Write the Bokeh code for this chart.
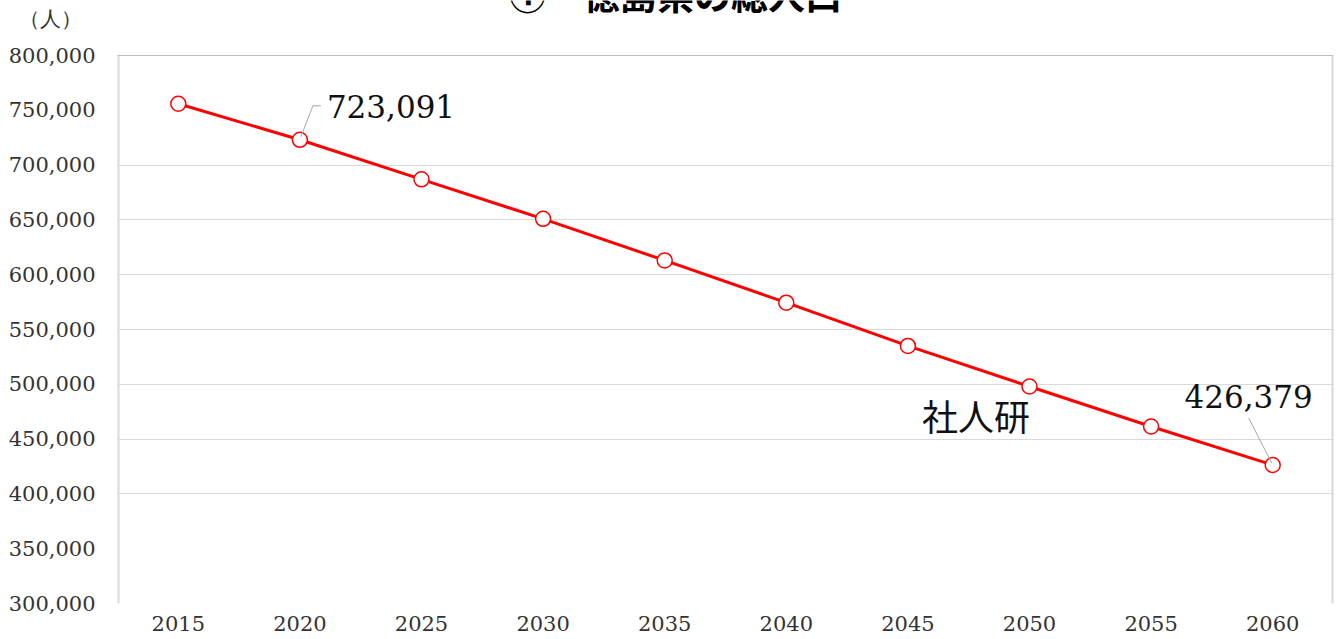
from bokeh.plotting import figure
from bokeh.models import (FactorRange, Range1d, FixedTicker, NumeralTickFormatter,
                          ColumnDataSource, LabelSet, Label, Span)
from bokeh.core.properties import value
from bokeh.embed import file_html
from bokeh.resources import INLINE

years = ["2015", "2020", "2025", "2030", "2035", "2040", "2045", "2050", "2055", "2060"]
population = [756000, 723091, 687000, 651000, 613000, 574500, 535000, 498000, 461500, 426379]
y_ticks = [300000, 350000, 400000, 450000, 500000, 550000, 600000, 650000, 700000, 750000, 800000]
grid_ticks = [400000, 450000, 500000, 550000, 600000, 650000, 700000]
title_text = "①　徳島県の総人口"
unit_text = "（人）"
series_name = "社人研"
labelled_years = ["2020", "2060"]

W, H = 1341, 639
BL, BR, BB = 117, 8, 36
GAP_TOP = 55          # pixels between canvas top and the 800,000 line
y_min, y_max = y_ticks[0], y_ticks[-1]
frame_w = W - BL - BR
frame_h = H - BB
px_x = len(years) / frame_w
px_y = (y_max - y_min) / (frame_h - GAP_TOP)

p = figure(width=W, height=H, output_backend="svg", toolbar_location=None,
           x_range=FactorRange(factors=years, range_padding=0),
           y_range=Range1d(y_min, y_max + GAP_TOP * px_y),
           min_border_left=BL, min_border_right=BR, min_border_top=0, min_border_bottom=BB)
p.outline_line_color = None
p.background_fill_color = "white"

# unit label sits as an extra tick above the plotting area
unit_tick = int(round(y_max + 37 * px_y))
p.yaxis.ticker = FixedTicker(ticks=y_ticks + [unit_tick])
p.yaxis.formatter = NumeralTickFormatter(format="0,0")
p.yaxis.major_label_overrides = {unit_tick: unit_text + "\u00a0\u00a0"}
for ax in (p.xaxis[0], p.yaxis[0]):
    ax.major_tick_line_color = None
    ax.minor_tick_line_color = None
    ax.major_tick_out = 0
    ax.major_tick_in = 0
    ax.major_label_text_font = "DejaVu Serif"
    ax.major_label_text_font_size = "21px"
    ax.major_label_text_color = "#333333"
    ax.axis_line_color = None
p.yaxis.major_label_standoff = 22
p.xaxis.major_label_standoff = 12

p.xgrid.grid_line_color = None
p.ygrid.ticker = FixedTicker(ticks=grid_ticks)
p.ygrid.grid_line_color = "#d9d9d9"
p.ygrid.grid_line_width = 1

# plot-area border: top line, left and right edges
p.add_layout(Span(location=y_max, dimension="width", line_color="#bfbfbf", line_width=1))
p.line([0, 0], [y_min, y_max], line_color="#d9d9d9", line_width=4)
p.line([len(years), len(years)], [y_min, y_max], line_color="#d9d9d9", line_width=4)

# series
src = ColumnDataSource(dict(x=years, y=population))
p.line("x", "y", source=src, line_color="red", line_width=3)
p.scatter("x", "y", source=src, size=15, fill_color="white", line_color="red", line_width=1.5)

def idx(year):
    return years.index(year) + 0.5

# data labels
lab_vals = [population[years.index(y)] for y in labelled_years]
lab_src = ColumnDataSource(dict(
    x=labelled_years, y=lab_vals, text=[f"{v:,}" for v in lab_vals],
    xo=[27, -24], yo=[33, 68], align=["left", "center"]))
p.add_layout(LabelSet(x="x", y="y", text="text", source=lab_src, x_offset="xo", y_offset="yo",
                      text_align="align", text_baseline="middle",
                      text_font=value("DejaVu Serif"), text_font_size="31px", text_color="#111111"))

# leader lines
y20 = population[years.index("2020")]
p.line([idx("2020") + 1 * px_x, idx("2020") + 13 * px_x, idx("2020") + 21 * px_x],
       [y20 + 3 * px_y, y20 + 34 * px_y, y20 + 34 * px_y], line_color="#a6a6a6", line_width=1)
y60 = population[years.index("2060")]
p.line([idx("2060") - 24 * px_x, idx("2060") - 1 * px_x],
       [y60 + 47 * px_y, y60 + 2 * px_y], line_color="#a6a6a6", line_width=1)

# series name
y50 = population[years.index("2050")]
p.add_layout(Label(x=idx("2050") - 0.44, y=y50 - 29 * px_y,
                   text=series_name, text_align="center", text_baseline="middle",
                   text_font="Noto Sans CJK JP", text_font_size="36px", text_color="#111111"))

# title (cut at the top edge like the reference)
p.add_layout(Label(x=(675 - BL) * px_x, y=y_max + 35 * px_y, text=title_text,
                   text_align="center", text_baseline="bottom",
                   text_font="Noto Sans CJK JP", text_font_size="37px", text_font_style="bold",
                   text_color="#000000"))

open("out.html", "w").write(file_html(p, INLINE))
